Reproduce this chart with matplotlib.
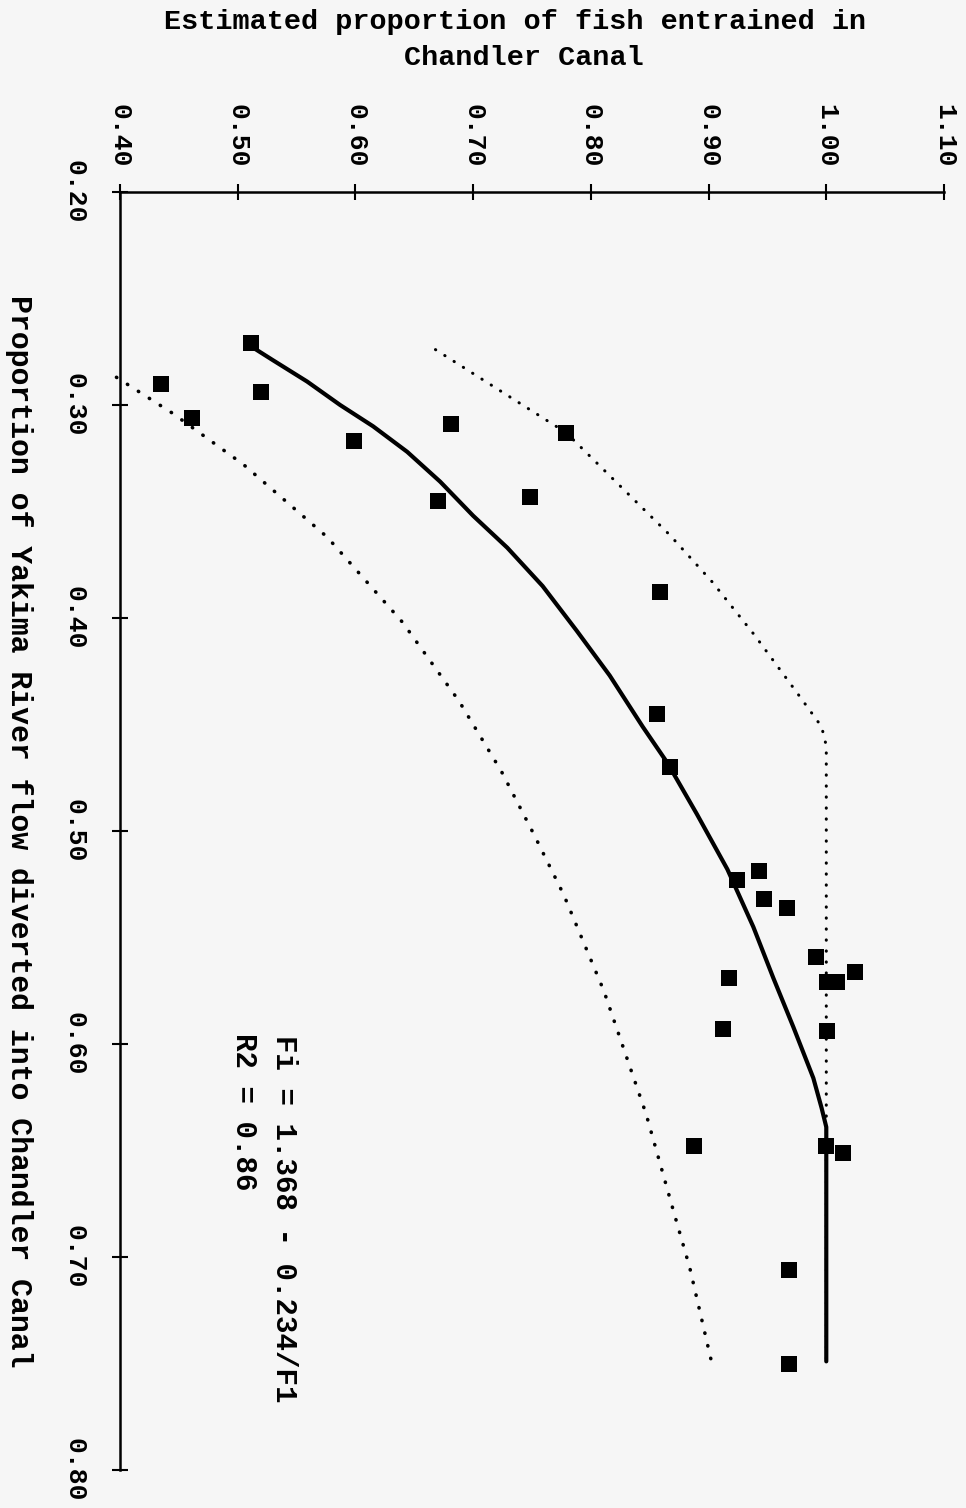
import matplotlib.pyplot as plt

# fonts: scan looks like Courier, Liberation Mono is the closest match
plt.rcParams['font.family'] = ['Liberation Mono', 'DejaVu Sans Mono']
plt.rcParams['font.weight'] = 'bold'

# observed points: flow proportion diverted vs estimated entrainment
flow_obs = [0.271, 0.290, 0.294, 0.306, 0.317, 0.309, 0.313, 0.345, 0.343, 0.388,
            0.445, 0.470, 0.523, 0.519, 0.532, 0.536, 0.559, 0.569, 0.571, 0.571,
            0.566, 0.593, 0.594, 0.648, 0.648, 0.651, 0.706, 0.750]
fi_obs = [0.511, 0.435, 0.520, 0.461, 0.599, 0.681, 0.779, 0.670, 0.748, 0.859,
          0.856, 0.867, 0.924, 0.943, 0.947, 0.967, 0.991, 0.917, 1.001, 1.009,
          1.024, 0.912, 1.001, 0.888, 1.000, 1.014, 0.968, 0.968]

# fitted curve
fit_flow = [0.272, 0.279, 0.289, 0.300, 0.310, 0.322, 0.336, 0.352, 0.367, 0.385,
            0.406, 0.427, 0.451, 0.468, 0.492, 0.518, 0.545, 0.569, 0.592, 0.616,
            0.630, 0.639, 0.749]
fit_fi = [0.510, 0.530, 0.559, 0.587, 0.615, 0.644, 0.672, 0.700, 0.729, 0.759,
          0.788, 0.816, 0.844, 0.865, 0.890, 0.916, 0.938, 0.955, 0.972, 0.989,
          0.996, 1.000, 1.000]

# upper and lower dotted bounds
upper_flow = [0.274, 0.313, 0.361, 0.383, 0.408, 0.435, 0.451, 0.460, 0.749]
upper_fi = [0.668, 0.779, 0.867, 0.903, 0.939, 0.975, 0.996, 1.000, 1.000]

lower_flow = [0.287, 0.304, 0.328, 0.362, 0.402, 0.439, 0.472, 0.502, 0.530, 0.575,
              0.633, 0.680, 0.705, 0.748]
lower_fi = [0.397, 0.445, 0.505, 0.576, 0.640, 0.688, 0.724, 0.752, 0.777, 0.811,
            0.847, 0.871, 0.884, 0.902]

x_ticks = [0.40, 0.50, 0.60, 0.70, 0.80, 0.90, 1.00, 1.10]
y_ticks = [0.20, 0.30, 0.40, 0.50, 0.60, 0.70, 0.80]

bg = '#f6f6f6'
fig = plt.figure(figsize=(9.66, 15.08), dpi=100, facecolor=bg)
ax = fig.add_axes([120 / 966, 1 - 1470 / 1508, 824 / 966, 1278 / 1508])
ax.set_facecolor(bg)

dots = (0, (0.1, 3.5))
ax.plot(upper_fi, upper_flow, color='black', lw=2.2, linestyle=dots,
        dash_capstyle='round', clip_on=False)
ax.plot(lower_fi, lower_flow, color='black', lw=2.6, linestyle=dots,
        dash_capstyle='round', clip_on=False)
ax.plot(fit_fi, fit_flow, color='black', lw=3, solid_capstyle='round',
        solid_joinstyle='round')
ax.plot(fi_obs, flow_obs, 's', color='black', ms=11, mew=0, linestyle='none')

ax.set_xlim(0.40, 1.10)
ax.set_ylim(0.80, 0.20)

ax.xaxis.tick_top()
ax.set_xticks(x_ticks)
ax.set_xticklabels([f'{v:.2f}' for v in x_ticks], rotation=-90)
ax.set_yticks(y_ticks)
ax.set_yticklabels([f'{v:.2f}' for v in y_ticks], rotation=-90, va='center')

for s in ['right', 'bottom']:
    ax.spines[s].set_visible(False)
for s in ['top', 'left']:
    ax.spines[s].set_linewidth(1.8)

ax.tick_params(axis='x', direction='inout', length=12, width=1.5, labelsize=19, pad=12)
ax.tick_params(axis='y', direction='inout', length=12, width=1.5, labelsize=19, pad=18)

# fit equation
ax.text(0.539, 0.596, 'Fi = 1.368 - 0.234/F1', rotation=-90, ha='center', va='top', fontsize=21)
ax.text(0.505, 0.595, 'R2 = 0.86', rotation=-90, ha='center', va='top', fontsize=21)

# axis titles
fig.text(515 / 966, 1 - 22 / 1508, 'Estimated proportion of fish entrained in',
         ha='center', va='center', fontsize=20.5)
fig.text(524 / 966, 1 - 58 / 1508, 'Chandler Canal', ha='center', va='center', fontsize=20.5)
fig.text(19 / 966, 1 - 831 / 1508,
         'Proportion of Yakima River flow diverted into Chandler Canal',
         rotation=-90, ha='center', va='center', fontsize=21.5)

plt.savefig('out.png', dpi=100, facecolor=bg)
